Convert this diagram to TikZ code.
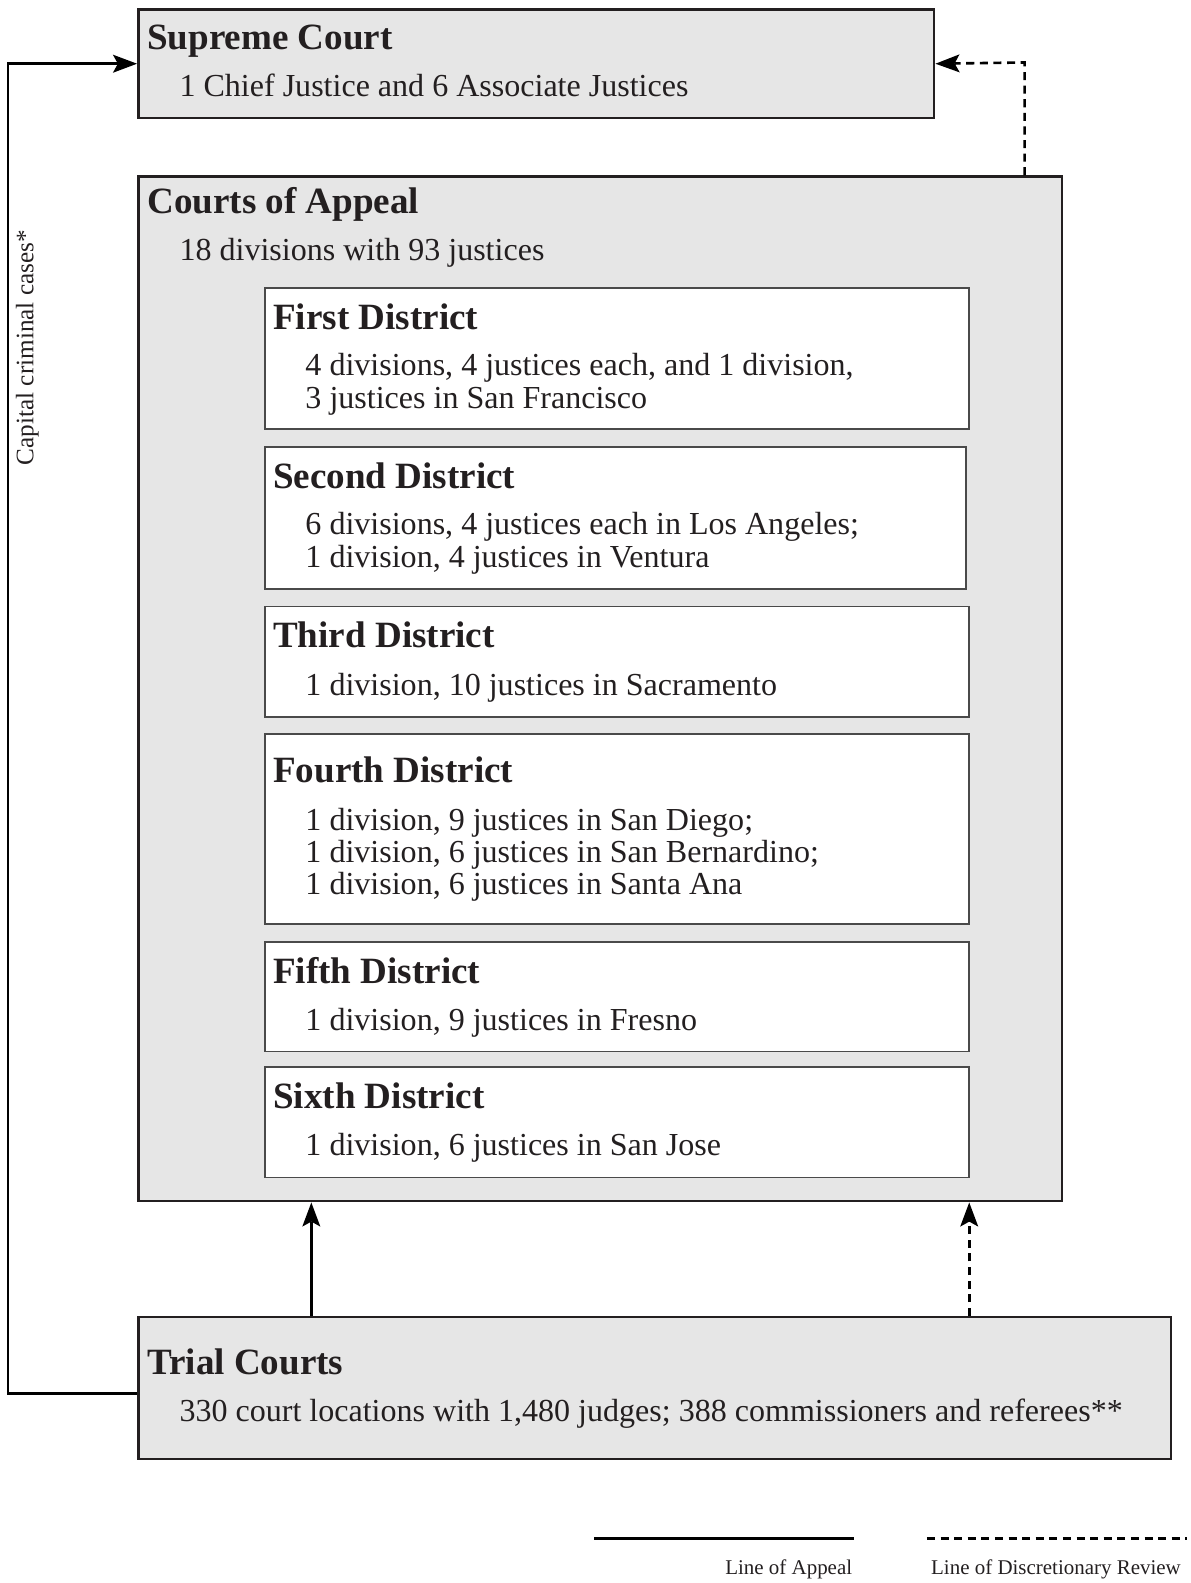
\documentclass[tikz,border=0pt]{standalone}
\usepackage{fontspec}
\setmainfont{Liberation Serif}
\usetikzlibrary{arrows.meta}
\definecolor{boxgray}{HTML}{E6E6E6}
\definecolor{ink}{HTML}{231F20}
\definecolor{subline}{HTML}{4A4A4A}
\begin{document}
\begin{tikzpicture}[x=1pt,y=-1pt,
  outerbox/.style={draw=ink,line width=2.5pt,fill=boxgray,anchor=north west,inner sep=0pt},
  distbox/.style={draw=subline,line width=1.6pt,fill=white,anchor=north west,inner sep=0pt},
  head/.style={anchor=base west,inner sep=0pt,text=ink,font=\fontsize{36.8}{40}\selectfont\bfseries},
  body/.style={anchor=base west,inner sep=0pt,text=ink,font=\fontsize{31.8}{32}\selectfont},
  legtext/.style={inner sep=0pt,text=ink,font=\fontsize{20.8}{22}\selectfont},
  sidetext/.style={inner sep=0pt,text=ink,font=\fontsize{25}{26}\selectfont},
  appeal/.style={draw=black,line width=2.6pt},
  review/.style={draw=black,line width=2.6pt,dash pattern=on 8pt off 5.5pt},
  tip/.style={-{Stealth[length=24pt,width=18pt,inset=5pt,line width=0pt]}}
]
\useasboundingbox (0,0) rectangle (1182.1,1571.2);

% Supreme Court
\node[outerbox,minimum width=790pt,minimum height=108pt] (sc) at (136,8) {};
\node[head] (schead) at (146,49) {Supreme Court};
\node[body] (scbody) at (178,96) {1 Chief Justice and 6 Associate Justices};

% Courts of Appeal
\node[outerbox,minimum width=917pt,minimum height=1017pt] (ca) at (136,174) {};
\node[head] (cahead) at (146,212) {Courts of Appeal};
\node[body] (cabody) at (178,259) {18 divisions with 93 justices};

% Districts
\node[distbox,minimum width=699pt,minimum height=140pt] (d1) at (262,285) {};
\node[head] (d1h) at (271,327) {First District};
\node[body] (d1a) at (303,373) {4 divisions, 4 justices each, and 1 division,};
\node[body] (d1b) at (303,405) {3 justices in San Francisco};

\node[distbox,minimum width=696pt,minimum height=141pt] (d2) at (262,443) {};
\node[head] (d2h) at (271,485) {Second District};
\node[body] (d2a) at (303,531) {6 divisions, 4 justices each in Los Angeles;};
\node[body] (d2b) at (303,563) {1 division, 4 justices in Ventura};

\node[distbox,minimum width=699pt,minimum height=110pt] (d3) at (262,601) {};
\node[head] (d3h) at (271,643) {Third District};
\node[body] (d3a) at (303,690) {1 division, 10 justices in Sacramento};

\node[distbox,minimum width=699pt,minimum height=188pt] (d4) at (262,728) {};
\node[head] (d4h) at (271,777) {Fourth District};
\node[body] (d4a) at (303,824) {1 division, 9 justices in San Diego;};
\node[body] (d4b) at (303,856) {1 division, 6 justices in San Bernardino;};
\node[body] (d4c) at (303,888) {1 division, 6 justices in Santa Ana};

\node[distbox,minimum width=699pt,minimum height=109pt] (d5) at (262,934) {};
\node[head] (d5h) at (271,976) {Fifth District};
\node[body] (d5a) at (303,1023) {1 division, 9 justices in Fresno};

\node[distbox,minimum width=699pt,minimum height=110pt] (d6) at (262,1058) {};
\node[head] (d6h) at (271,1100) {Sixth District};
\node[body] (d6a) at (303,1147) {1 division, 6 justices in San Jose};

% Trial Courts
\node[outerbox,minimum width=1025pt,minimum height=141pt] (tc) at (136,1306) {};
\node[head] (tchead) at (146,1364) {Trial Courts};
\node[body] (tcbody) at (178,1411) {330 court locations with 1,480 judges; 388 commissioners and referees**};

% Capital criminal cases
\coordinate (capy) at (0,1383);
\coordinate (capx) at (8,1383);
\draw[appeal,tip] (tc.west |- capy) -- (capx) |- (sc.west);
\node[sidetext,rotate=90] (caplabel) at (27,345) {Capital criminal cases*};

% Discretionary review to Supreme Court
\coordinate (drx) at (1017,62);
\draw[review,tip] (ca.north -| drx) -- (drx) -- (sc.east);

% Trial to Appeal
\coordinate (upa) at (309,0);
\coordinate (upr) at (962,0);
\draw[appeal,tip] (tc.north -| upa) -- (ca.south -| upa);
\draw[review,tip] (tc.north -| upr) -- (ca.south -| upr);

% Legend
\coordinate (la1) at (590,1527);
\coordinate (la2) at (848,1527);
\coordinate (lr1) at (920,1527);
\coordinate (lr2) at (1178,1527);
\draw[appeal] (la1) -- (la2);
\draw[review] (lr1) -- (lr2);
\node[legtext,anchor=base east] (lat) at (846,1563) {Line of Appeal};
\node[legtext,anchor=base west] (lrt) at (924,1563) {Line of Discretionary Review};
\end{tikzpicture}
\end{document}
